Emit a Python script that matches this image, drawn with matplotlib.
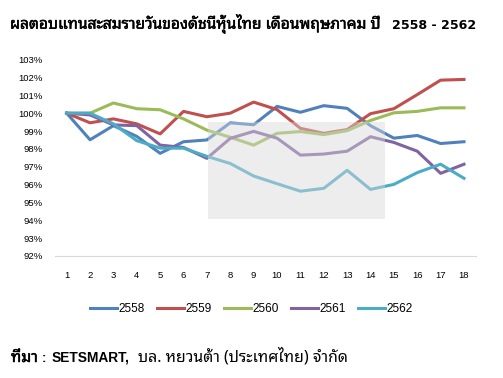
import matplotlib
matplotlib.use("Agg")
import matplotlib.pyplot as plt
from matplotlib.patches import Rectangle
import matplotlib.patheffects as pe

days = list(range(1, 19))

y2558 = [100, 98.51, 99.3, 98.7, 97.75, 98.4, 98.5, 99.46, 99.35, 100.38, 100.05, 100.42, 100.27, 99.3, 98.6, 98.75, 98.3, 98.4]
y2559 = [100, 99.46, 99.68, 99.4, 98.84, 100.1, 99.8, 100.0, 100.62, 100.2, 99.15, 98.87, 99.08, 99.97, 100.25, 101.04, 101.85, 101.89]
y2560 = [100, 100, 100.57, 100.25, 100.19, 99.68, 99.05, 98.65, 98.21, 98.87, 98.97, 98.8, 99.02, 99.59, 100.02, 100.1, 100.3, 100.3]
y2561 = [100, 99.9, 99.34, 99.3, 98.21, 98.08, 97.47, 98.59, 98.98, 98.6, 97.65, 97.71, 97.87, 98.68, 98.36, 97.87, 96.63, 97.14]
y2562 = [100, 100, 99.4, 98.46, 98.04, 98.04, 97.58, 97.18, 96.48, 96.05, 95.63, 95.79, 96.8, 95.73, 96.01, 96.67, 97.14, 96.35]

series = [("2558", y2558, "#4F81BD"),
          ("2559", y2559, "#C0504D"),
          ("2560", y2560, "#9BBB59"),
          ("2561", y2561, "#8064A2"),
          ("2562", y2562, "#4BACC6")]

title_th = "ผลตอบแทนสะสมรายวันของดัชนีหุ้นไทย เดือนพฤษภาคม ปี"
title_yr = "2558 - 2562"
src_1 = "ที่มา"
src_2 = ":"
src_3 = "SETSMART,"
src_4 = "บล. หยวนต้า (ประเทศไทย) จำกัด"

THAI = ['Noto Sans Thai Looped', 'Liberation Sans', 'DejaVu Sans']
plt.rcParams['font.family'] = ['Liberation Sans', 'Noto Sans Thai Looped', 'DejaVu Sans']

W, H = 503, 378
fig = plt.figure(figsize=(W / 100, H / 100), dpi=100)
ax = fig.add_axes([0.1093, 0.3228, 0.8364, 0.5195])

for name, vals, col in series:
    ax.plot(days, vals, color=col, linewidth=2.2, label=name, zorder=2)

# grey highlight box laid over the lines
ax.add_patch(Rectangle((7.05, 94.07), 7.55, 5.46, facecolor="#D8D8D8",
                       alpha=0.45, edgecolor="none", zorder=3))

ax.set_xlim(0.5, 18.5)
ax.set_ylim(92, 103)
ax.set_xticks(days)
ax.set_yticks(range(92, 104))
ax.set_yticklabels([f"{v}%" for v in range(92, 104)])
ax.tick_params(length=0, labelsize=6.8)
ax.tick_params(axis="x", pad=11)
ax.tick_params(axis="y", pad=9)
for s in ["top", "right", "left"]:
    ax.spines[s].set_visible(False)
ax.spines["bottom"].set_color("#D9D9D9")

fig.legend(loc="center", bbox_to_anchor=(0.5, 0.1825), ncol=5, frameon=False,
           fontsize=8.5, handlelength=2.3, handletextpad=0.15, columnspacing=1.0)

renderer = fig.canvas.get_renderer()
# the Thai font has no bold face here, so thicken it with a thin stroke
fake_bold = [pe.withStroke(linewidth=0.35, foreground="black")]


def fitted(s, x0, x1, base, **kw):
    # put a piece of text on the baseline, sized so it spans x0..x1 pixels
    t = fig.text(x0 / W, 1 - base / H, s, fontsize=10, va="baseline", **kw)
    w = t.get_window_extent(renderer).width
    t.set_fontsize(10 * (x1 - x0) / w)
    return t


fitted(title_th, 10, 382, 28.7, family=THAI, path_effects=fake_bold)
fitted(title_yr, 392, 477, 28.7, fontweight="bold", family=['DejaVu Sans'])

fitted(src_1, 11, 38, 362, family=THAI, path_effects=fake_bold)
fig.text(42 / W, 1 - 362 / H, src_2, fontsize=9.5, fontweight="bold", va="baseline")
fitted(src_3, 52, 130, 362, fontweight="bold")
fitted(src_4, 138, 349, 362, family=THAI)

fig.savefig("out.png", dpi=100)
